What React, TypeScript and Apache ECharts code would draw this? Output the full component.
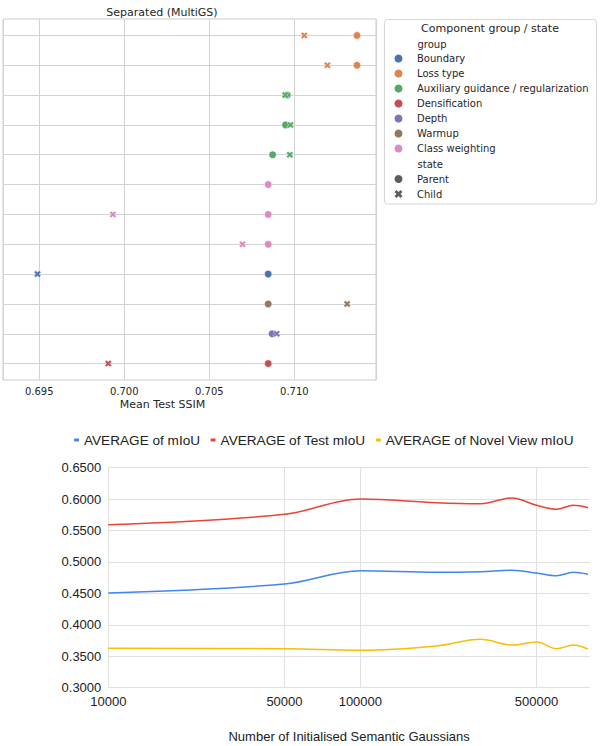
import React, { useEffect, useRef } from 'react';
import * as echarts from 'echarts';

// ---------- Top chart data (Separated (MultiGS)) ----------
const groups = [
  'Boundary',
  'Loss type',
  'Auxiliary guidance / regularization',
  'Densification',
  'Depth',
  'Warmup',
  'Class weighting',
];
const groupColors = ['#4c72b0', '#dd8452', '#55a868', '#c44e52', '#8172b3', '#937860', '#da8bc3'];
const states = ['Parent', 'Child'];

// rows, top to bottom (row labels are cut off in the reference)
const rowLabels = ['r1', 'r2', 'r3', 'r4', 'r5', 'r6', 'r7', 'r8', 'r9', 'r10', 'r11', 'r12'];
const rowGroup = [
  'Loss type',
  'Loss type',
  'Auxiliary guidance / regularization',
  'Auxiliary guidance / regularization',
  'Auxiliary guidance / regularization',
  'Class weighting',
  'Class weighting',
  'Class weighting',
  'Boundary',
  'Warmup',
  'Depth',
  'Densification',
];
const parentSSIM = [0.71368, 0.71368, 0.70958, 0.70948, 0.70872, 0.70846, 0.70846, 0.70846, 0.70846, 0.70846, 0.70869, 0.70846];
const childSSIM: (number | null)[] = [0.71058, 0.71194, 0.70946, 0.70977, 0.70973, null, 0.69933, 0.70695, 0.6949, 0.7131, 0.70896, 0.69906];

// ---------- Bottom chart data ----------
const gaussians = [10000, 50000, 100000, 200000, 300000, 400000, 500000, 600000, 700000, 800000];
const miou = [0.4507, 0.465, 0.4861, 0.4836, 0.4846, 0.4868, 0.4825, 0.4782, 0.4836, 0.4804];
const testMiou = [0.5593, 0.5758, 0.6002, 0.5943, 0.5927, 0.6018, 0.5902, 0.5838, 0.5902, 0.5864];
const novelMiou = [0.3627, 0.3621, 0.3595, 0.3664, 0.377, 0.3679, 0.3727, 0.3621, 0.3679, 0.3615];
const lineNames = ['AVERAGE of mIoU', 'AVERAGE of Test mIoU', 'AVERAGE of Novel View mIoU'];
const lineColors = ['#4285f4', '#ea4335', '#fbbc04'];
const xTicks = [10000, 50000, 100000, 500000];

const crossPath =
  'path://M2.5,0 L5,2.5 L7.5,0 L10,2.5 L7.5,5 L10,7.5 L7.5,10 L5,7.5 L2.5,10 L0,7.5 L2.5,5 L0,2.5 Z';

const SEA = 'DejaVu Sans';
const GOO = 'Arial, "Liberation Sans", sans-serif';
const TXT = '#262626';

export default function App() {
  const ref = useRef<HTMLDivElement>(null);

  useEffect(() => {
    document.body.style.margin = '0';
    if (!ref.current) return;
    const chart = echarts.init(ref.current, null, { renderer: 'svg' });

    const scatterSeries: any[] = groups.map((g, gi) => {
      const data: any[] = [];
      rowGroup.forEach((rg, ri) => {
        if (rg === g) data.push({ value: [parentSSIM[ri], ri], symbol: 'circle', symbolSize: 7.5 });
      });
      rowGroup.forEach((rg, ri) => {
        const c = childSSIM[ri];
        if (rg === g && c != null) data.push({ value: [c, ri], symbol: crossPath, symbolSize: 7 });
      });
      const s: any = {
        type: 'scatter',
        name: g,
        xAxisIndex: 0,
        yAxisIndex: 0,
        symbol: 'circle',
        symbolSize: 7.5,
        z: 3,
        itemStyle: { color: groupColors[gi], borderColor: '#ffffff', borderWidth: 0.5, opacity: 1 },
        emphasis: { disabled: true },
        data,
      };
      if (gi === 0) {
        s.markLine = {
          z: 1,
          silent: true,
          symbol: ['none', 'none'],
          label: { show: false },
          lineStyle: { color: '#d3d3d3', width: 1, type: 'solid' },
          emphasis: { disabled: true },
          data: rowLabels.map((_, i) => ({ yAxis: i })),
        };
      }
      return s;
    });

    const stateSeries = states.map((st) => ({
      type: 'scatter',
      name: st,
      xAxisIndex: 0,
      yAxisIndex: 0,
      symbol: st === 'Parent' ? 'circle' : crossPath,
      itemStyle: { color: '#333333' },
      data: [],
    }));

    const lineData = [miou, testMiou, novelMiou];
    const lineSeries = lineNames.map((n, i) => ({
      type: 'line',
      name: n,
      xAxisIndex: 1,
      yAxisIndex: 1,
      smooth: 0.35,
      showSymbol: false,
      symbol: 'none',
      lineStyle: { color: lineColors[i], width: 1.5 },
      itemStyle: { color: lineColors[i] },
      z: 3,
      data: gaussians.map((g, j) => [g, lineData[i][j]]),
    }));

    const legendText = { fontFamily: SEA, fontSize: 10, color: TXT, lineHeight: 15 };

    const option: any = {
      animation: false,
      backgroundColor: '#ffffff',
      grid: [
        { left: -2, top: 19, width: 378, height: 361, show: true, borderColor: '#cccccc', borderWidth: 1, containLabel: false },
        { left: 108.3, top: 467.7, right: 12, height: 220, containLabel: false },
      ],
      xAxis: [
        {
          gridIndex: 0,
          type: 'value',
          min: 0.692871,
          max: 0.714797,
          axisLine: { show: false },
          axisTick: { show: false },
          axisLabel: {
            fontFamily: SEA,
            fontSize: 10,
            color: TXT,
            margin: 6,
            formatter: (v: number) => (Math.abs(v * 200 - Math.round(v * 200)) < 1e-6 ? v.toFixed(3) : ''),
          },
          splitLine: { show: true, lineStyle: { color: '#d3d3d3', width: 1 } },
          name: 'Mean Test SSIM',
          nameLocation: 'middle',
          nameGap: 19,
          nameTextStyle: { fontFamily: SEA, fontSize: 11, color: TXT, padding: [0, 54, 0, 0] },
        },
        {
          gridIndex: 1,
          type: 'log',
          logBase: 10,
          min: 10000,
          max: 815000,
          axisLine: { show: false },
          axisTick: { show: false, customValues: xTicks },
          axisLabel: {
            customValues: xTicks,
            fontFamily: GOO,
            fontSize: 13,
            color: '#222222',
            margin: 7,
            formatter: (v: number) => String(Math.round(v)),
          },
          splitLine: { show: true, lineStyle: { color: '#e0e0e0', width: 1 } },
          name: 'Number of Initialised Semantic Gaussians',
          nameLocation: 'middle',
          nameGap: 42,
          nameTextStyle: { fontFamily: GOO, fontSize: 13, color: '#222222' },
        },
      ],
      yAxis: [
        {
          gridIndex: 0,
          type: 'value',
          inverse: true,
          min: -0.55,
          max: rowLabels.length - 1 + 0.55,
          axisLine: { show: false },
          axisTick: { show: false },
          axisLabel: { show: false },
          splitLine: { show: false },
        },
        {
          gridIndex: 1,
          type: 'value',
          min: 0.3,
          max: 0.65,
          interval: 0.05,
          axisLine: { show: false },
          axisTick: { show: false },
          axisLabel: {
            fontFamily: GOO,
            fontSize: 13,
            color: '#222222',
            margin: 7,
            formatter: (v: number) => v.toFixed(4),
          },
          splitLine: { show: true, lineStyle: { color: '#e0e0e0', width: 1 } },
        },
      ],
      legend: [
        {
          orient: 'vertical',
          left: 394.5,
          top: 51,
          padding: 0,
          itemGap: 0,
          itemWidth: 27,
          itemHeight: 8,
          selectedMode: false,
          itemStyle: { borderWidth: 0 },
          data: groups.map((g) => ({ name: g, icon: 'circle' })),
          textStyle: legendText,
        },
        {
          orient: 'vertical',
          left: 394.5,
          top: 171.5,
          padding: 0,
          itemGap: 0,
          itemWidth: 27,
          itemHeight: 8,
          selectedMode: false,
          itemStyle: { borderWidth: 0 },
          data: [
            { name: 'Parent', icon: 'circle' },
            { name: 'Child', icon: crossPath },
          ],
          textStyle: legendText,
        },
        {
          orient: 'horizontal',
          left: 74,
          top: 433,
          padding: 0,
          itemGap: 10.5,
          itemWidth: 5,
          itemHeight: 3,
          icon: 'roundRect',
          selectedMode: false,
          data: lineNames,
          textStyle: { fontFamily: GOO, fontSize: 13.6, color: '#222222' },
        },
      ],
      graphic: [
        {
          type: 'text',
          style: {
            x: 162,
            y: 12,
            text: 'Separated (MultiGS)',
            fontFamily: SEA,
            fontSize: 11,
            fontWeight: 'normal',
            fill: TXT,
            textAlign: 'center',
            textVerticalAlign: 'middle',
          },
        },
        {
          type: 'rect',
          z: -1,
          shape: { x: 384.5, y: 19.5, width: 212, height: 184.5, r: 3 },
          style: { fill: null, stroke: '#d6d6d6', lineWidth: 1 },
        },
        {
          type: 'text',
          style: {
            x: 490,
            y: 28.5,
            text: 'Component group / state',
            fontFamily: SEA,
            fontSize: 11,
            fontWeight: 'normal',
            fill: TXT,
            textAlign: 'center',
            textVerticalAlign: 'middle',
          },
        },
        {
          type: 'text',
          style: { x: 417.5, y: 44, text: 'group', fontFamily: SEA, fontSize: 10, fontWeight: 'normal', fill: TXT, textAlign: 'left', textVerticalAlign: 'middle' },
        },
        {
          type: 'text',
          style: { x: 417.5, y: 164.5, text: 'state', fontFamily: SEA, fontSize: 10, fontWeight: 'normal', fill: TXT, textAlign: 'left', textVerticalAlign: 'middle' },
        },
      ],
      series: [...scatterSeries, ...stateSeries, ...lineSeries],
    };

    chart.setOption(option);
    return () => chart.dispose();
  }, []);

  return <div ref={ref} style={{ position: 'absolute', left: 0, top: 0, width: 602, height: 746 }} />;
}
